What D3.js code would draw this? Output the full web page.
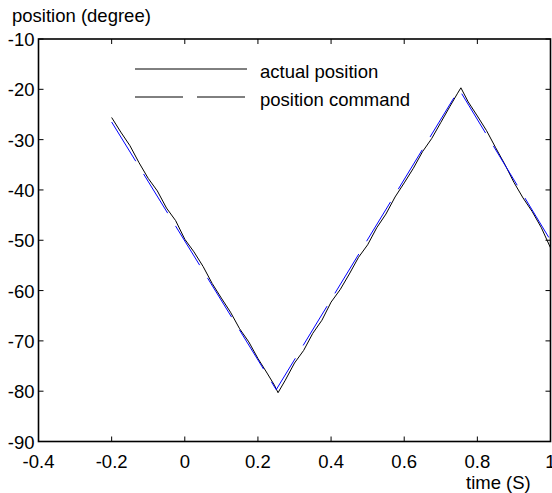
<!DOCTYPE html>
<html>
<head>
<meta charset="utf-8">
<script src="https://cdn.jsdelivr.net/npm/d3@7"></script>
<style>
  body { margin: 0; background: #fff; }
  text { font-family: Arial, "Liberation Sans", Helvetica, sans-serif; fill: #000; }
</style>
</head>
<body>
<div id="chart"></div>
<script>
// tick labels
const xTicks = [-0.4, -0.2, 0, 0.2, 0.4, 0.6, 0.8, 1];
const yTicks = [-10, -20, -30, -40, -50, -60, -70, -80, -90];

// position command (triangle, blue dashed)
const cmdTime = [-0.2, 0.25, 0.75, 1.0];
const cmdPos = [-26.5, -79.7, -20, -50];

// actual position (black)
const actTime = [-0.2, -0.175, -0.15, -0.125, -0.1, -0.075, -0.05, -0.025, 0,
  0.025, 0.05, 0.075, 0.1, 0.125, 0.15, 0.175, 0.2, 0.225, 0.245, 0.255,
  0.275, 0.3, 0.325, 0.35, 0.375, 0.4, 0.425, 0.45, 0.475, 0.5,
  0.525, 0.55, 0.575, 0.6, 0.625, 0.65, 0.675, 0.7, 0.725, 0.745, 0.755,
  0.775, 0.8, 0.825, 0.85, 0.875, 0.9, 0.925, 0.95, 0.975, 1.0];
const actPos = [-25.6, -28.5, -31.2, -34.6, -37.7, -40.2, -43.6, -46.1, -49.8,
  -52.3, -55.2, -58.6, -61.5, -64.3, -67.6, -70.2, -73.5, -76.4, -78.8, -80.3,
  -77.8, -74.4, -71.9, -68.5, -65.9, -62.3, -59.8, -56.7, -53.4, -50.9,
  -47.5, -44.8, -41.4, -38.6, -35.7, -32.4, -29.8, -26.6, -23.4, -20.9, -19.7,
  -22.5, -25.3, -28.2, -31.6, -34.9, -38.5, -41.6, -44.3, -47.5, -51.5];

const legendLabels = ["actual position", "position command"];

const width = 552, height = 493;
const margin = {left: 38.5, right: 1.5, top: 39, bottom: 51.5};

const svg = d3.select("#chart").append("svg")
    .attr("width", width)
    .attr("height", height);

const x = d3.scaleLinear().domain([-0.4, 1]).range([margin.left, width - margin.right]);
const y = d3.scaleLinear().domain([-90, -10]).range([height - margin.bottom, margin.top]);

// ticks pointing inward on all four sides
const tickLen = 5;
const tickG = svg.append("g").attr("stroke", "#000").attr("stroke-width", 1);
xTicks.forEach(function(t) {
    tickG.append("line").attr("x1", x(t)).attr("x2", x(t))
        .attr("y1", y(-90)).attr("y2", y(-90) - tickLen);
    tickG.append("line").attr("x1", x(t)).attr("x2", x(t))
        .attr("y1", y(-10)).attr("y2", y(-10) + tickLen);
});
yTicks.forEach(function(v) {
    tickG.append("line").attr("x1", x(-0.4)).attr("x2", x(-0.4) + tickLen)
        .attr("y1", y(v)).attr("y2", y(v));
    tickG.append("line").attr("x1", x(1)).attr("x2", x(1) - tickLen)
        .attr("y1", y(v)).attr("y2", y(v));
});

// axis box
svg.append("rect")
    .attr("x", x(-0.4)).attr("y", y(-10))
    .attr("width", x(1) - x(-0.4)).attr("height", y(-90) - y(-10))
    .attr("fill", "none").attr("stroke", "#000").attr("stroke-width", 1.6);

// tick labels
svg.append("g").selectAll("text").data(xTicks).enter().append("text")
    .attr("x", function(d) { return x(d); })
    .attr("y", y(-90) + 26)
    .attr("text-anchor", "middle")
    .attr("font-size", "18.5px")
    .text(function(d) { return d; });

svg.append("g").selectAll("text").data(yTicks).enter().append("text")
    .attr("x", x(-0.4) - 4)
    .attr("y", function(d) { return y(d) + 7; })
    .attr("text-anchor", "end")
    .attr("font-size", "18.5px")
    .text(function(d) { return d; });

// axis titles
svg.append("text").attr("x", 12).attr("y", 22)
    .attr("font-size", "18.5px").text("position (degree)");
svg.append("text").attr("x", 466).attr("y", 489)
    .attr("font-size", "18.5px").text("time (S)");

// data lines
const actLine = d3.line()
    .x(function(d, i) { return x(actTime[i]); })
    .y(function(d) { return y(d); });
const cmdLine = d3.line()
    .x(function(d, i) { return x(cmdTime[i]); })
    .y(function(d) { return y(d); });

svg.append("path").datum(actPos)
    .attr("d", actLine)
    .attr("fill", "none").attr("stroke", "#000").attr("stroke-width", 1);

svg.append("path").datum(cmdPos)
    .attr("d", cmdLine)
    .attr("fill", "none").attr("stroke", "#0000ff").attr("stroke-width", 1)
    .attr("stroke-dasharray", "46,15");

// legend
const legend = svg.append("g");
legendLabels.forEach(function(label, i) {
    const ly = 69 + i * 28;
    legend.append("line")
        .attr("x1", 135).attr("x2", 247).attr("y1", ly).attr("y2", ly)
        .attr("stroke", "#000").attr("stroke-width", 1)
        .attr("stroke-dasharray", i === 0 ? null : "48,14");
    legend.append("text")
        .attr("x", 260).attr("y", ly + 9)
        .attr("font-size", "18.5px")
        .text(label);
});
</script>
</body>
</html>
